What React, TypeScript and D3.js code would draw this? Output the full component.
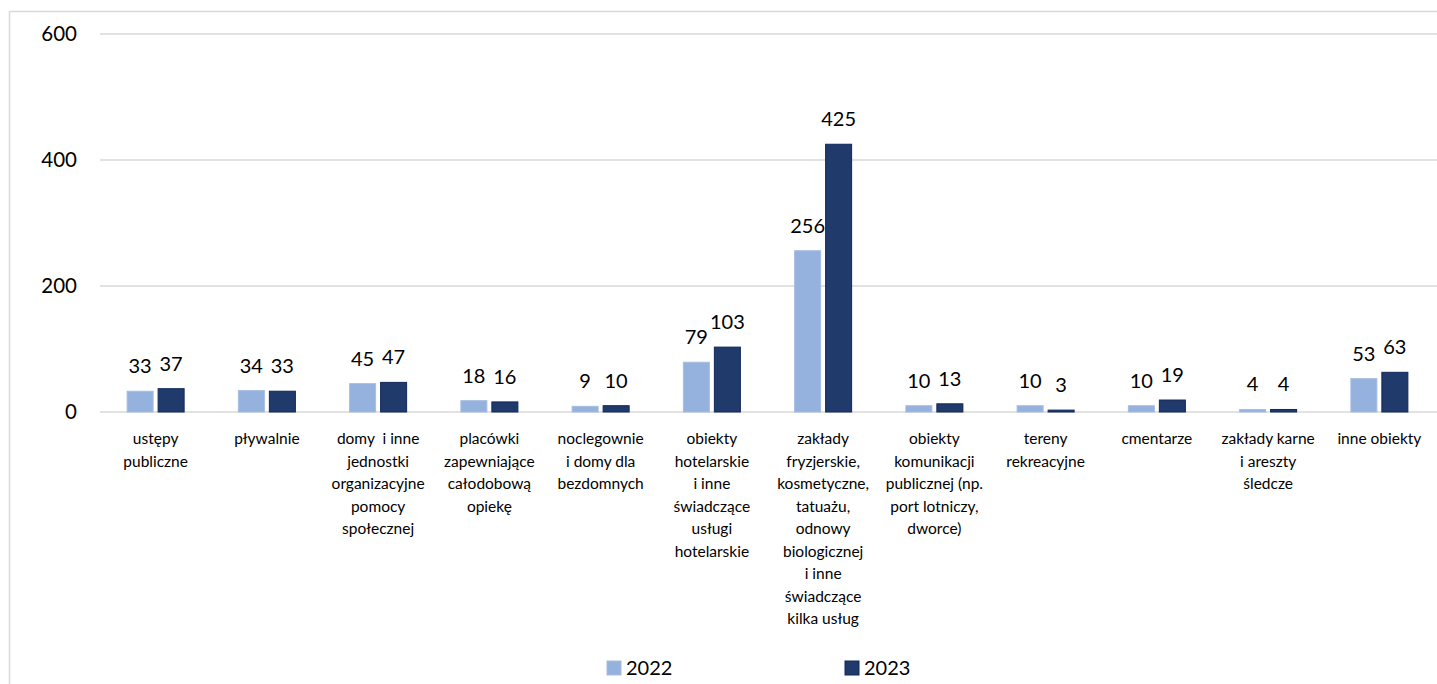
import React from "react";
import * as d3 from "d3";

const categories: string[][] = [
  ["ustępy", "publiczne"],
  ["pływalnie"],
  ["domy  i inne", "jednostki", "organizacyjne", "pomocy", "społecznej"],
  ["placówki", "zapewniające", "całodobową", "opiekę"],
  ["noclegownie", "i domy dla", "bezdomnych"],
  ["obiekty", "hotelarskie", "i inne", "świadczące", "usługi", "hotelarskie"],
  ["zakłady", "fryzjerskie,", "kosmetyczne,", "tatuażu,", "odnowy", "biologicznej", "i inne", "świadczące", "kilka usług"],
  ["obiekty", "komunikacji", "publicznej (np.", "port lotniczy,", "dworce)"],
  ["tereny", "rekreacyjne"],
  ["cmentarze"],
  ["zakłady karne", "i areszty", "śledcze"],
  ["inne obiekty"],
];
const values2022 = [33, 34, 45, 18, 9, 79, 256, 10, 10, 10, 4, 53];
const values2023 = [37, 33, 47, 16, 10, 103, 425, 13, 3, 19, 4, 63];
const seriesNames = ["2022", "2023"];
const yTicks = [0, 200, 400, 600];

const W = 1437;
const H = 684;
const left = 100;
const right = 1435;
const top = 34;
const bottom = 412;
const FONT = "Lato, 'Open Sans', sans-serif";
const colors = ["#95B1DE", "#203A6C"];
const strokes = ["#A7BDE3", "#10275A"];

export default function App() {
  const idx = categories.map((_, i) => i);
  const x = d3.scaleBand<number>().domain(idx).range([left, right]).padding(0);
  const x1 = d3
    .scaleBand<string>()
    .domain(seriesNames)
    .range([0, x.bandwidth()])
    .paddingInner(0.161)
    .paddingOuter(0.875);
  const y = d3.scaleLinear().domain([0, 600]).range([bottom, top]);
  const series = [values2022, values2023];

  return (
    <svg
      width={W}
      height={H}
      style={{ position: "absolute", left: 0, top: 0, background: "#fff" }}
      fontFamily={FONT}
    >
      <rect x={9.5} y={11.5} width={1440} height={700} fill="#fff" stroke="#D9D9D9" strokeWidth={1.5} />
      {yTicks.map((t) => (
        <g key={t}>
          <line x1={left} x2={right + 2} y1={y(t)} y2={y(t)} stroke="#D9D9D9" strokeWidth={1.5} />
          <text x={77} y={y(t)} dy="0.35em" textAnchor="end" fontSize={20.5} fill="#000">
            {t}
          </text>
        </g>
      ))}
      {series.map((vals, s) =>
        vals.map((v, i) => {
          const bx = (x(i) as number) + (x1(seriesNames[s]) as number);
          const bw = x1.bandwidth();
          return (
            <g key={`${s}-${i}`}>
              <rect
                x={bx}
                y={y(v)}
                width={bw}
                height={bottom - y(v)}
                fill={colors[s]}
                stroke={strokes[s]}
                strokeWidth={1}
              />
              <text
                x={bx + bw / 2}
                y={y(v) - 18}
                textAnchor="middle"
                fontSize={20}
                fill="#000"
              >
                {v}
              </text>
            </g>
          );
        })
      )}
      {categories.map((lines, i) => (
        <text
          key={i}
          x={(x(i) as number) + x.bandwidth() / 2}
          y={444}
          textAnchor="middle"
          fontSize={15.5}
          fill="#000"
        >
          {lines.map((l, k) => (
            <tspan key={k} x={(x(i) as number) + x.bandwidth() / 2} dy={k === 0 ? 0 : 22.5} style={{ whiteSpace: "pre" }}>
              {l}
            </tspan>
          ))}
        </text>
      ))}
      {seriesNames.map((n, s) => {
        const lx = s === 0 ? 607 : 845;
        return (
          <g key={n}>
            <rect x={lx} y={661} width={14} height={14} fill={colors[s]} stroke={strokes[s]} />
            <text x={lx + 19} y={675} fontSize={20} fill="#000">
              {n}
            </text>
          </g>
        );
      })}
    </svg>
  );
}
